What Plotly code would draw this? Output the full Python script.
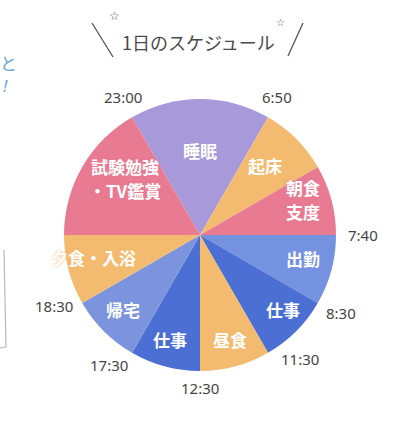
import math
import plotly.graph_objects as go

# ---- data ----
activities = [["睡眠"], ["起床"], ["朝食", "支度"], ["出勤"], ["仕事"], ["昼食"], ["仕事"], ["帰宅"],
              ["夕食・入浴"], ["試験勉強", "・TV鑑賞"]]
durations = [2, 1, 1, 1, 1, 1, 1, 1, 1, 2]          # relative slice sizes (units of 30°)
start_times = ["23:00", "6:50", "", "7:40", "8:30", "11:30", "12:30", "17:30", "18:30", ""]
title_text = "1日のスケジュール"

# ---- style ----
W, H = 414, 428
CX, CY, R = 200, 235, 136
ROT = -30
purple, orange, pink = "#a899da", "#f3bb6f", "#e87a92"
blue_l, blue_d, blue_m = "#7592e0", "#4b6fd3", "#7c94de"
colors = [purple, orange, pink, blue_l, blue_d, orange, blue_d, blue_m, orange, pink]
label_r = [85, 95, 109, 106, 112, 109, 109, 107, 109, 94]
label_da = [0, -2, -4, -2, -3, -1, 1, 1, 3, 7]
LINE_H = 24
time_da = {"11:30": -9, "17:30": 5, "18:30": 4, "23:00": 1, "6:50": -1, "8:30": -1}
TEXT_FONT = "Noto Sans CJK JP"
NUM_FONT = "Noto Sans"

fig = go.Figure()
fig.add_trace(go.Pie(
    values=durations,
    labels=[f"s{i}" for i in range(len(durations))],
    sort=False,
    direction="clockwise",
    rotation=ROT,
    marker=dict(colors=colors, line=dict(width=0)),
    textinfo="none",
    hoverinfo="skip",
    showlegend=False,
    domain=dict(x=[(CX - R) / W, (CX + R) / W], y=[1 - (CY + R) / H, 1 - (CY - R) / H]),
))

def to_px(angle_deg, r):
    a = math.radians(angle_deg)
    return CX + r * math.sin(a), CY - r * math.cos(a)

def ann(xp, yp, text, font, **kw):
    d = dict(x=xp / W, y=1 - yp / H, xref="paper", yref="paper", text=text, showarrow=False,
             font=font, xanchor="center", yanchor="middle")
    d.update(kw)
    return d

total = sum(durations)
annotations = []
cum = 0
for i, (lines, v, t) in enumerate(zip(activities, durations, start_times)):
    start_ang = ROT + cum / total * 360
    mid_ang = ROT + (cum + v / 2) / total * 360
    px, py = to_px(mid_ang + label_da[i], label_r[i])
    n = len(lines)
    for j, line in enumerate(lines):
        ly = py + (j - (n - 1) / 2) * LINE_H
        annotations.append(ann(px, ly, f"<b>{line}</b>",
                               dict(family=TEXT_FONT, size=17, color="white",
                                    shadow=f"0px 0px 3px {colors[i]}")))
    if t:
        ang = start_ang + time_da.get(t, 0)
        r = R + 17 + 10 * abs(math.sin(math.radians(ang)))
        px, py = to_px(ang, r)
        annotations.append(ann(px, py, t, dict(family=NUM_FONT, size=15, color="#454545")))
    cum += v

# title and decorations
annotations += [
    ann(198, 42, title_text, dict(family=TEXT_FONT, size=18, color="#4a4a4a")),
    ann(114, 16, "☆", dict(family="DejaVu Sans", size=12, color="#555")),
    ann(280, 23, "☆", dict(family="DejaVu Sans", size=10, color="#555")),
    ann(8, 63, "と", dict(family=TEXT_FONT, size=17, color="#6aa6d6")),
    ann(5, 86, "<i>!</i>", dict(family=NUM_FONT, size=17, color="#6aa6d6")),
]

def pline(x0, y0, x1, y1, color, width):
    return dict(type="line", xref="paper", yref="paper", x0=x0 / W, y0=1 - y0 / H,
                x1=x1 / W, y1=1 - y1 / H, line=dict(color=color, width=width))

shapes = [
    pline(92, 23, 113, 57, "#555", 1.3),
    pline(288, 56, 303, 23, "#555", 1.3),
    pline(4, 250, 6, 347, "#b8b8c0", 1.2),
    pline(0, 348, 6, 347, "#b8b8c0", 1.2),
]

fig.update_layout(
    width=W, height=H,
    margin=dict(l=0, r=0, t=0, b=0),
    paper_bgcolor="white", plot_bgcolor="white",
    annotations=annotations, shapes=shapes,
    showlegend=False,
)
fig.write_html("out.html")
